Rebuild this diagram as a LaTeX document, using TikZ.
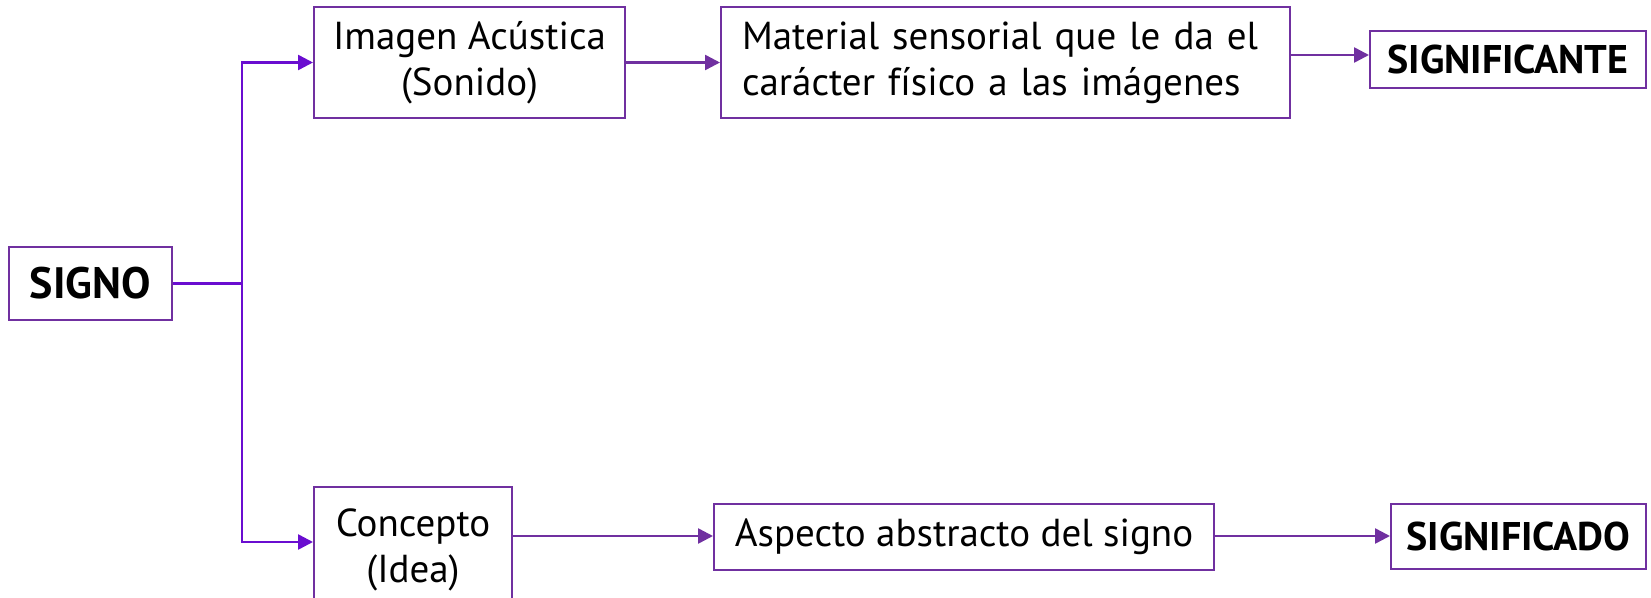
\documentclass[tikz,border=0pt]{standalone}
\usepackage{fontspec}
\setmainfont{PT Sans}
\usetikzlibrary{arrows.meta,calc}
\definecolor{boxc}{HTML}{7030A0}
\definecolor{trunkc}{HTML}{6A0DD0}
\tikzset{
  box/.style={draw=boxc, line width=2pt, inner sep=0pt, fill=white,
    font=\fontsize{39}{46}\selectfont, align=center},
  boldbox/.style={box, font=\fontsize{40}{46}\selectfont\bfseries},
  arr/.style={draw=boxc, line width=2.5pt, -{Triangle[length=15pt,width=15pt]}},
  tarr/.style={draw=trunkc, line width=2.5pt, -{Triangle[length=15pt,width=15pt]}},
}
\begin{document}
\begin{tikzpicture}[x=1pt,y=-1pt]
\useasboundingbox (0,0) rectangle (1651,597);
\fill[white] (0,0) rectangle (1651,597);
\node[boldbox, font=\fontsize{44}{50}\selectfont\bfseries, minimum width=163pt, minimum height=73pt] (signo) at (90.5,283.5) {SIGNO};
\node[box, minimum width=311pt, minimum height=111pt] (imagen) at (469.5,62.5) {Imagen Acústica\\(Sonido)};
\node[box, minimum width=569pt, minimum height=111pt, text width=527pt, align=left] (material) at (1005.5,62.5) {Material sensorial que le da el\\carácter físico a las imágenes};
\node[boldbox, minimum width=276pt, minimum height=57pt] (significante) at (1508,59.5) {SIGNIFICANTE};
\node[box, minimum width=198pt, minimum height=126pt] (concepto) at (413,550) {Concepto\\(Idea)};
\node[box, minimum width=500pt, minimum height=66pt] (aspecto) at (964,537) {Aspecto abstracto del signo};
\node[boldbox, minimum width=255pt, minimum height=65pt] (significado) at (1518.5,536.5) {SIGNIFICADO};
\coordinate (ytop) at (0,55);
\coordinate (ylow) at (0,536);
\coordinate (yin) at (0,542);
\coordinate (junction) at (242,283.5);
\draw[draw=trunkc, line width=2.5pt] (signo.east) -- (junction);
\draw[tarr] (junction) |- (imagen.west);
\draw[tarr] (junction) |- (concepto.west |- yin);
\draw[arr] (imagen.east) -- (material.west);
\draw[arr] (material.east |- ytop) -- (significante.west |- ytop);
\draw[arr] (concepto.east |- ylow) -- (aspecto.west |- ylow);
\draw[arr] (aspecto.east |- ylow) -- (significado.west |- ylow);
\end{tikzpicture}
\end{document}
